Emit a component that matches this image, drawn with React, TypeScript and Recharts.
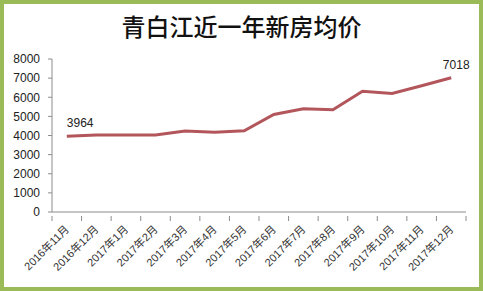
import React from "react"
import { LineChart, Line, XAxis, YAxis, LabelList } from "recharts"

const months = [
  "2016年11月", "2016年12月", "2017年1月", "2017年2月", "2017年3月", "2017年4月", "2017年5月",
  "2017年6月", "2017年7月", "2017年8月", "2017年9月", "2017年10月", "2017年11月", "2017年12月",
]
const prices = [3964, 4020, 4020, 4030, 4235, 4165, 4251, 5100, 5400, 5350, 6310, 6200, 6600, 7018]
const yTicks = [0, 1000, 2000, 3000, 4000, 5000, 6000, 7000, 8000]

const data = months.map((m, i) => ({ month: m, price: prices[i] }))

const FONT = "'Liberation Sans', 'Noto Sans CJK SC', sans-serif"
const AXIS = "#8c8c8c"

const MonthTick = (props: any) => {
  const { x, y, payload, index, visibleTicksCount } = props
  const off = payload.offset ?? 0
  const last = index === visibleTicksCount - 1
  return (
    <g>
      <line x1={x - off} x2={x - off} y1={y - 4} y2={y + 1} stroke={AXIS} />
      {last && <line x1={x + off} x2={x + off} y1={y - 4} y2={y + 1} stroke={AXIS} />}
      <text
        x={x + 3}
        y={y + 10}
        transform={`rotate(-45, ${x + 3}, ${y + 10})`}
        textAnchor="end"
        fontSize={11}
        fill="#333"
        fontFamily={FONT}
      >
        {payload.value}
      </text>
    </g>
  )
}

const EndLabel = (props: any) => {
  const { x, y, value, index } = props
  if (index !== 0 && index !== prices.length - 1) return null
  const first = index === 0
  return (
    <text
      x={first ? x : x + 5}
      y={y - 9}
      textAnchor={first ? "start" : "middle"}
      fontSize={12}
      fill="#222"
      fontFamily={FONT}
    >
      {value}
    </text>
  )
}

export default function App() {
  return (
    <div
      style={{
        position: "absolute",
        left: 0,
        top: 0,
        width: 483,
        height: 291,
        boxSizing: "border-box",
        border: "4px solid #9bbb59",
        background: "#fff",
      }}
    >
      <div
        style={{
          position: "absolute",
          left: 0,
          right: 0,
          top: 7,
          textAlign: "center",
          fontFamily: "'Noto Sans CJK SC', sans-serif",
          fontSize: 24,
          fontWeight: 500,
          color: "#111",
          lineHeight: "30px",
        }}
      >
        青白江近一年新房均价
      </div>
      <LineChart
        width={475}
        height={283}
        data={data}
        margin={{ top: 55, right: 13, left: 0, bottom: 0 }}
      >
        <XAxis
          dataKey="month"
          scale="band"
          height={75}
          interval={0}
          tickLine={false}
          axisLine={{ stroke: AXIS }}
          tick={<MonthTick />}
        />
        <YAxis
          width={48}
          domain={[0, 8000]}
          ticks={yTicks}
          interval={0}
          tickSize={4}
          tickMargin={8}
          axisLine={{ stroke: AXIS }}
          tickLine={{ stroke: AXIS }}
          tick={{ fontSize: 12, fill: "#222", fontFamily: FONT }}
        />
        <Line
          type="linear"
          dataKey="price"
          stroke="#b3565b"
          strokeWidth={3}
          dot={false}
          isAnimationActive={false}
        >
          <LabelList dataKey="price" content={<EndLabel />} />
        </Line>
      </LineChart>
    </div>
  )
}
